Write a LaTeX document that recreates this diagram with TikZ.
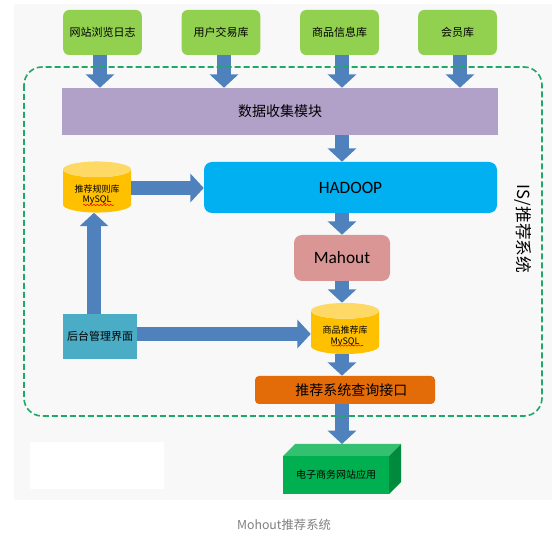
\documentclass[tikz,border=0pt]{standalone}
\usepackage{fontspec}
\setmainfont{Carlito}
\newfontfamily\cjk{Noto Sans CJK SC}
\usetikzlibrary{arrows.meta, calc, shapes.geometric, decorations.pathmorphing}
\definecolor{pagegray}{HTML}{F8F8F8}
\definecolor{srcgreen}{HTML}{92D050}
\definecolor{flowblue}{HTML}{4F81BD}
\definecolor{dashgreen}{HTML}{1FA866}
\definecolor{collectpurple}{HTML}{B1A0C7}
\definecolor{hadoopblue}{HTML}{00B0F0}
\definecolor{mahoutred}{HTML}{D99694}
\definecolor{dbyellow}{HTML}{FFC000}
\definecolor{dbtop}{HTML}{FFD966}
\definecolor{adminblue}{HTML}{4BACC6}
\definecolor{queryorange}{HTML}{E36C09}
\definecolor{appgreen}{HTML}{00B050}
\definecolor{apptop}{HTML}{33C070}
\definecolor{appside}{HTML}{008A3E}
\tikzset{
  srcbox/.style={fill=srcgreen, rounded corners=4.5pt, minimum width=59pt, minimum height=33.75pt, inner sep=0pt, font=\cjk\fontsize{8.25}{10}\selectfont},
  dbbox/.style={cylinder, shape border rotate=90, aspect=0.35, anchor=shape center, draw=none, cylinder uses custom fill, cylinder body fill=dbyellow, cylinder end fill=dbtop, minimum width=51pt, minimum height=37.5pt, inner sep=0pt, align=center, font=\cjk\fontsize{6.75}{7.8}\selectfont},
  flow/.style={draw=flowblue, line width=10.5pt, -{Triangle[length=10pt, width=21pt, fill=flowblue]}},
  squiggle/.style={draw=red, line width=0.4pt, decorate, decoration={snake, amplitude=0.5pt, segment length=2.5pt}}
}
\begin{document}
\begin{tikzpicture}[x=0.75pt, y=-0.75pt]
    \useasboundingbox (0,0) rectangle (554,538);
    % Backdrop
    \fill[white] (0,0) rectangle (554,538);
    \fill[pagegray] (14,4) rectangle (552,500);
    \fill[white] (30,442) rectangle (164,489);
    % Sources
    \node[srcbox] (web) at (102.5,32.5) {网站浏览日志};
    \node[srcbox] (trade) at (221,32.5) {用户交易库};
    \node[srcbox] (goods) at (339.5,32.5) {商品信息库};
    \node[srcbox] (member) at (457.5,32.5) {会员库};
    % Modules
    \node[fill=collectpurple, minimum width=327pt, minimum height=35.25pt, inner sep=0pt, font=\cjk\fontsize{10.5}{12}\selectfont] (collect) at (280,111.5) {数据收集模块};
    \node[fill=hadoopblue, rounded corners=6pt, minimum width=219.75pt, minimum height=38.25pt, inner sep=0pt, font=\fontsize{13}{15}\selectfont] (hadoop) at (350.5,187.5) {HADOOP\hspace{8pt}};
    \node[fill=mahoutred, rounded corners=6pt, minimum width=72pt, minimum height=34.5pt, inner sep=0pt, font=\fontsize{13}{15}\selectfont] (mahout) at (342,258) {Mahout};
    \node[fill=adminblue, minimum width=55.5pt, minimum height=33.75pt, inner sep=0pt, font=\cjk\fontsize{8.25}{10}\selectfont] (admin) at (100,336.5) {后台管理界面};
    \node[fill=queryorange, rounded corners=3pt, minimum width=135pt, minimum height=21pt, inner sep=0pt, font=\cjk\fontsize{10.5}{12}\selectfont] (query) at (345,390) {\hspace{9.5pt}推荐系统查询接口};
    % Databases
    \node[dbbox] (rules) at (97,187) {\rule{0pt}{11pt}推荐规则库\\MySQL};
    \node[dbbox] (rec) at (345,328.5) {\rule{0pt}{11pt}商品推荐库\\MySQL};
    \draw[squiggle] ($(rules.shape center)+(-14,18)$) coordinate (rulesa) -- ($(rules.shape center)+(17,18)$);
    \draw[squiggle] ($(rec.shape center)+(-14,17)$) coordinate (reca) -- ($(rec.shape center)+(18,17)$);
    % Application block
    \fill[apptop] (283,456) -- (295,444) -- (401,444) -- (389,456) -- cycle;
    \fill[appside] (389,456) -- (401,444) -- (401,482) -- (389,494) -- cycle;
    \node[fill=appgreen, minimum width=79.5pt, minimum height=28.5pt, inner sep=0pt, font=\cjk\fontsize{7.5}{9}\selectfont] (app) at (336,475) {电子商务网站应用};
    \coordinate (appback) at (342,444);
    % Flows
    \foreach \src/\xx in {web/100, trade/224, goods/342, member/460}
      \draw[flow] (\xx,0 |- \src.south) -- (\xx,0 |- collect.north);
    \draw[flow] (342,0 |- collect.south) -- (342,0 |- hadoop.north);
    \draw[flow] (342,0 |- hadoop.south) -- (mahout.north);
    \draw[flow] (mahout.south) -- (342,0 |- rec.north);
    \draw[flow] (342,0 |- rec.south) -- (342,0 |- query.north);
    \draw[flow] (342,0 |- query.south) -- (appback);
    \draw[flow] (rules.east |- 0,188) -- (hadoop.west |- 0,188);
    \draw[flow] (94,0 |- admin.north) -- (94,0 |- rules.south);
    \draw[flow] (admin.east |- 0,334) -- (rec.west |- 0,334);
    % System frame
    \draw[dashgreen, line width=1.2pt, dash pattern=on 4.5pt off 2.25pt, rounded corners=13.5pt] (24,67) rectangle (542,416);
    \node[rotate=-90, inner sep=0pt, font=\cjk\fontsize{12.5}{14}\selectfont] (frame) at (523,229) {IS/推荐系统};
    % Caption
    \node[text=gray, inner sep=0pt, font=\cjk\fontsize{9.25}{11}\selectfont] (caption) at (284,525) {Mohout推荐系统};
  \end{tikzpicture}
\end{document}
